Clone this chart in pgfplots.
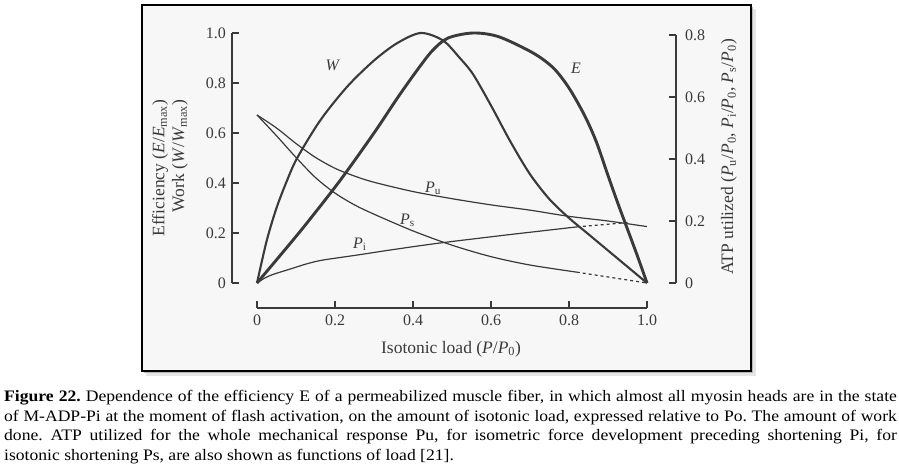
\documentclass[border=0pt]{standalone}
\usepackage{fontspec}
\setmainfont{Liberation Serif}
\usepackage{graphicx}
\usepackage{pgfplots}
\pgfplotsset{compat=1.18}

\definecolor{ink}{HTML}{3A3A3A}
\definecolor{paper}{HTML}{F7F7F7}
\newcommand{\sub}[1]{\textsubscript{#1}}
% one caption line, stretched to the full width like the scan
\newcommand{\capline}[1]{\scalebox{1.10}[1]{\makebox[811.5pt][s]{#1}}}

\pgfplotsset{
  spine/.style={
    axis line style={ink, line width=1.3pt},
    tick style={ink, line width=1.2pt},
    tick align=inside,
    major tick length=7pt,
    ticklabel style={font=\fontsize{16}{16}\selectfont, text=ink, inner sep=0pt},
    clip=false,
  },
}

\begin{document}
\frenchspacing
\begin{tikzpicture}[x=1pt,y=1pt]
\path[use as bounding box] (0,0) rectangle (899,-471);

% scanned-figure frame with shadow
\fill[black!10] (146,-376) rectangle (756,-9);
\fill[black!28] (144,-373) rectangle (753,-7);
\filldraw[fill=paper, draw=black, line width=1.3pt] (142,-371) rectangle (751,-5);

% left axis: efficiency and work
\begin{axis}[spine,
  at={(232pt,-283pt)}, anchor=south west,
  x=390pt, y=250pt,
  xmin=-0.0641, xmax=1, ymin=0, ymax=1,
  axis y line*=left, axis x line=none, xtick=\empty,
  ytick={0,0.2,0.4,0.6,0.8,1},
  yticklabels={0,0.2,0.4,0.6,0.8,1.0},
  yticklabel style={anchor=east, xshift=-6pt},
]
% W
\addplot[ink, line width=2.1pt, smooth, tension=0.5] coordinates {
  (0,0) (0.025,0.17) (0.05,0.30) (0.077,0.41) (0.103,0.50) (0.162,0.65)
  (0.231,0.785) (0.30,0.89) (0.36,0.96) (0.42,1.0) (0.477,0.97)
  (0.52,0.90) (0.554,0.835) (0.60,0.71) (0.65,0.565) (0.70,0.435)
  (0.75,0.335) (0.80,0.26) (0.85,0.195) (0.90,0.13) (0.95,0.065) (1,0)
};
% E
\addplot[ink, line width=2.9pt, smooth, tension=0.5] coordinates {
  (0,0) (0.077,0.143) (0.128,0.24) (0.213,0.41) (0.30,0.60) (0.36,0.74)
  (0.41,0.85) (0.45,0.93) (0.49,0.98) (0.554,1.0) (0.62,0.985)
  (0.708,0.92) (0.76,0.86) (0.80,0.78) (0.84,0.67) (0.87,0.565)
  (0.90,0.43) (0.925,0.32) (0.95,0.215) (0.975,0.11) (1,0)
};
\end{axis}

% bottom axis: isotonic load
\begin{axis}[spine,
  at={(257pt,-308pt)}, anchor=south west,
  x=390pt, y=250pt,
  xmin=0, xmax=1, ymin=0, ymax=1,
  axis x line*=bottom, axis y line=none, ytick=\empty,
  xtick={0,0.2,0.4,0.6,0.8,1},
  xticklabels={0,0.2,0.4,0.6,0.8,1.0},
  xticklabel style={anchor=north, yshift=-7pt},
]
\end{axis}

% right axis: ATP utilized
\begin{axis}[spine,
  at={(257pt,-283pt)}, anchor=south west,
  x=390pt, y=310pt,
  xmin=0, xmax=1.0744, ymin=0, ymax=0.8,
  axis y line*=right, axis x line=none, xtick=\empty,
  ytick={0,0.2,0.4,0.6,0.8},
  yticklabels={0,0.2,0.4,0.6,0.8},
  yticklabel style={anchor=west, xshift=9pt},
]
% Pu
\addplot[ink, line width=1.2pt, smooth, tension=0.5] coordinates {
  (0,0.542) (0.05,0.50) (0.10,0.45) (0.15,0.405) (0.20,0.37) (0.25,0.345)
  (0.30,0.325) (0.40,0.295) (0.50,0.272) (0.60,0.252) (0.70,0.235)
  (0.80,0.215) (0.90,0.200) (1.0,0.182)
};
% Ps
\addplot[ink, line width=1.2pt, smooth, tension=0.5] coordinates {
  (0,0.542) (0.05,0.475) (0.10,0.405) (0.15,0.34) (0.20,0.29) (0.25,0.252)
  (0.30,0.222) (0.40,0.168) (0.50,0.122) (0.60,0.085) (0.70,0.058) (0.82,0.035)
};
\addplot[ink, line width=1.2pt, dashed] coordinates {(0.82,0.035) (1.0,0.0)};
% Pi
\addplot[ink, line width=1.2pt, smooth, tension=0.5] coordinates {
  (0,0) (0.02,0.016) (0.042,0.028) (0.085,0.045) (0.128,0.062) (0.169,0.074)
  (0.256,0.090) (0.35,0.108) (0.469,0.129) (0.64,0.155) (0.73,0.168) (0.82,0.181)
};
\addplot[ink, line width=1.2pt, dashed] coordinates {(0.82,0.181) (0.95,0.195)};
\end{axis}

% axis titles
\begin{scope}[every node/.style={text=ink, inner sep=0pt, font=\fontsize{17.5}{17.5}\selectfont}]
\node[rotate=90] at (160,-168) {Efficiency (\textit{E}/\textit{E}\sub{max})};
\node[rotate=90] at (180,-156) {Work (\textit{W}/\textit{W}\sub{max})};
\node[rotate=90] at (729,-157) {ATP utilized (\textit{P}\sub{u}/\textit{P}\sub{0}, \textit{P}\sub{i}/\textit{P}\sub{0}, \textit{P}\sub{s}/\textit{P}\sub{0})};
\node[anchor=base] at (451,-353) {Isotonic load (\textit{P}/\textit{P}\sub{0})};
\end{scope}

% curve names
\begin{scope}[every node/.style={text=ink, inner sep=0pt, font=\fontsize{16}{16}\selectfont}]
\node[anchor=base] at (333,-70) {\textit{W}};
\node[anchor=base] at (576,-73) {\textit{E}};
\node[anchor=base west] at (425,-192) {\textit{P}\sub{u}};
\node[anchor=base west] at (400,-224) {\textit{P}\sub{s}};
\node[anchor=base west] at (353,-248) {\textit{P}\sub{i}};
\end{scope}

% caption
\begin{scope}[every node/.style={anchor=base west, inner sep=0pt, font=\fontsize{16}{16}\selectfont}]
\node at (4,-401.5) {\capline{\textbf{Figure 22.} Dependence of the efficiency E of a permeabilized muscle fiber, in which almost all myosin heads are in the state}};
\node at (4,-421) {\capline{of M-ADP-Pi at the moment of flash activation, on the amount of isotonic load, expressed relative to Po. The amount of work}};
\node at (4,-440.5) {\capline{done. ATP utilized for the whole mechanical response Pu, for isometric force development preceding shortening Pi, for}};
\node at (4,-460) {\scalebox{1.10}[1]{isotonic shortening Ps, are also shown as functions of load [21].}};
\end{scope}
\end{tikzpicture}
\end{document}
